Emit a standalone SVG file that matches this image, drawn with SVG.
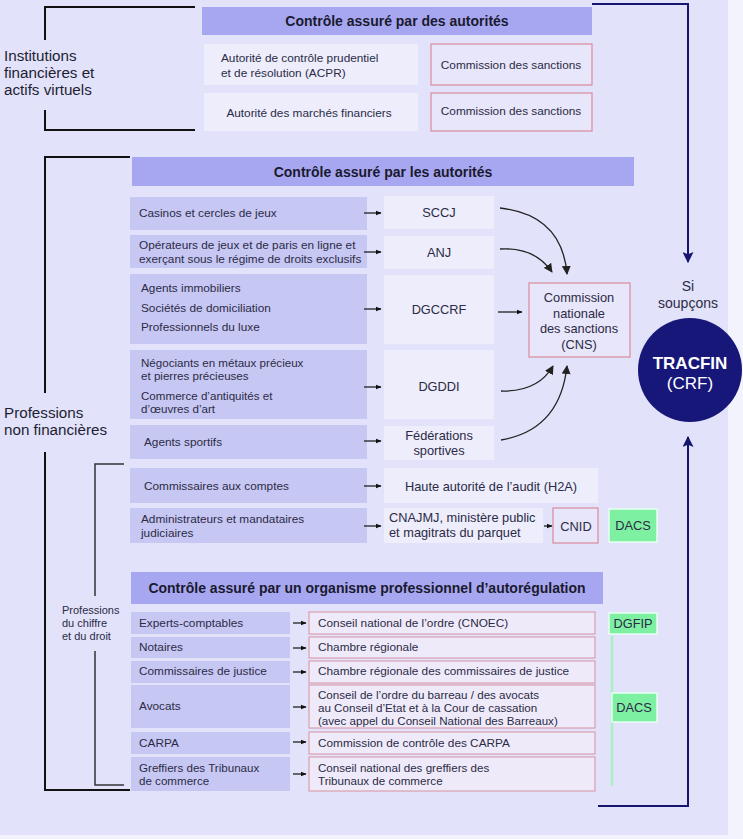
<svg xmlns="http://www.w3.org/2000/svg" width="743" height="839" viewBox="0 0 743 839">
<style>
text{font-family:"Liberation Sans",Arial,sans-serif;fill:#2b2b45;font-size:11.8px}
.t{font-size:11.6px}
.big{font-size:15.2px;fill:#1e1e30}
.hdr{font-weight:bold;font-size:14px;fill:#1a1a2e;text-anchor:middle}
.m{font-size:12.8px}
.h{fill:#a7a7f1}
.row{fill:#c7c7f4}
.lt{fill:#ededfc}
.pk{fill:#e8e6fa;stroke:#d98a9c;stroke-width:1.2}
.pk2{fill:#efeafa;stroke:#d9a0ae;stroke-width:1.2}
.gr{fill:#7ef0a2;stroke:#e8fff0;stroke-width:1.5}
.c{text-anchor:middle}
.br{fill:none;stroke:#111;stroke-width:2}
.br1{fill:none;stroke:#333;stroke-width:1.5}
.nv{fill:none;stroke:#16166e;stroke-width:2}
.ar{fill:none;stroke:#111;stroke-width:1.2}
.cv{fill:none;stroke:#222;stroke-width:1.3}
</style>
<defs>
<marker id="a" viewBox="0 0 10 10" refX="9" refY="5" markerWidth="6" markerHeight="6" orient="auto" markerUnits="userSpaceOnUse"><path d="M0,1 L10,5 L0,9 Z" fill="#111"/></marker>
<marker id="ac" viewBox="0 0 10 10" refX="9" refY="5" markerWidth="9" markerHeight="9" orient="auto" markerUnits="userSpaceOnUse"><path d="M0,0 L10,5 L0,10 Z" fill="#222"/></marker>
<marker id="an" viewBox="0 0 10 10" refX="9" refY="5" markerWidth="11" markerHeight="11" orient="auto" markerUnits="userSpaceOnUse"><path d="M0,0 L10,5 L0,10 L2,5 Z" fill="#16166e"/></marker>
</defs>
<rect x="0" y="0" width="743" height="839" fill="#f3f3fd"/>
<rect x="0" y="0" width="728" height="835" fill="#e2e2fb"/>

<g id="brackets">
<path class="br" d="M195,7 H45 V40 M45,110 V130 H195"/>
<path class="br" d="M130,157 H45 V393 M45,452 V790 H130"/>
<path class="br1" d="M124,464 H95 V596 M95,651 V785 H124"/>
</g>
<g id="lbl-institutions"><text class="big" x="4" y="61">Institutions<tspan x="4" dy="17">financières et</tspan><tspan x="4" dy="17">actifs virtuels</tspan></text></g>
<g id="lbl-nonfin"><text class="big" x="4" y="418">Professions<tspan x="4" dy="17">non financières</tspan></text></g>
<g id="lbl-chiffre"><text x="62" y="614" style="font-size:11px">Professions<tspan x="62" dy="13">du chiffre</tspan><tspan x="62" dy="13">et du droit</tspan></text></g>

<g id="hdr1"><rect class="h" x="202" y="7" width="390" height="28"/><text class="hdr" x="397" y="26">Contrôle assuré par des autorités</text></g>
<g id="acpr"><rect class="lt" x="204" y="44" width="214" height="41"/><text x="221" y="62">Autorité de contrôle prudentiel<tspan x="221" dy="15">et de résolution (ACPR)</tspan></text></g>
<g id="cs1"><rect class="pk" x="431" y="44" width="161" height="41"/><text class="c" x="511" y="69">Commission des sanctions</text></g>
<g id="amf"><rect class="lt" x="204" y="93" width="214" height="38"/><text class="c" x="309" y="117">Autorité des marchés financiers</text></g>
<g id="cs2"><rect class="pk" x="431" y="93" width="161" height="38"/><text class="c" x="511" y="115">Commission des sanctions</text></g>

<g id="hdr2"><rect class="h" x="132" y="157" width="502" height="29"/><text class="hdr" x="383" y="177">Contrôle assuré par les autorités</text></g>
<g id="r-casinos"><rect class="row" x="130" y="197" width="237" height="33"/><text x="139" y="217">Casinos et cercles de jeux</text></g>
<g id="r-operateurs"><rect class="row" x="130" y="235" width="237" height="33"/><text x="139" y="249">Opérateurs de jeux et de paris en ligne et<tspan x="139" dy="14">exerçant sous le régime de droits exclusifs</tspan></text></g>
<g id="r-agents"><rect class="row" x="130" y="274" width="237" height="70"/><text x="141" y="292">Agents immobiliers</text><text x="141" y="312">Sociétés de domiciliation</text><text x="141" y="331">Professionnels du luxe</text></g>
<g id="r-negociants"><rect class="row" x="130" y="350" width="237" height="69"/><text class="t" x="141" y="367">Négociants en métaux précieux<tspan x="141" dy="13">et pierres précieuses</tspan></text><text class="t" x="141" y="400">Commerce d’antiquités et<tspan x="141" dy="13">d’œuvres d’art</tspan></text></g>
<g id="r-sportifs"><rect class="row" x="130" y="425" width="237" height="34"/><text x="144" y="446">Agents sportifs</text></g>
<g id="r-cac"><rect class="row" x="130" y="468" width="237" height="35"/><text x="144" y="490">Commissaires aux comptes</text></g>
<g id="r-admin"><rect class="row" x="130" y="508" width="237" height="35"/><text x="141" y="523">Administrateurs et mandataires<tspan x="141" dy="14">judiciaires</tspan></text></g>

<g id="sccj"><rect class="lt" x="384" y="196" width="110" height="33"/><text class="c m" x="439" y="217">SCCJ</text></g>
<g id="anj"><rect class="lt" x="384" y="236" width="110" height="33"/><text class="c m" x="439" y="257">ANJ</text></g>
<g id="dgccrf"><rect class="lt" x="384" y="275" width="110" height="69"/><text class="c m" x="439" y="314">DGCCRF</text></g>
<g id="dgddi"><rect class="lt" x="384" y="350" width="110" height="69"/><text class="c m" x="439" y="391">DGDDI</text></g>
<g id="federations"><rect class="lt" x="384" y="426" width="110" height="34"/><text class="c m" x="439" y="440">Fédérations<tspan x="439" dy="14.6">sportives</tspan></text></g>
<g id="h2a"><rect class="lt" x="384" y="468" width="214" height="35"/><text class="c m" x="491" y="491">Haute autorité de l’audit (H2A)</text></g>
<g id="cnajmj"><rect class="lt" x="384" y="508" width="159" height="35"/><text class="m" x="389" y="522">CNAJMJ, ministère public<tspan x="389" dy="15">et magitrats du parquet</tspan></text></g>
<g id="cnid"><rect class="pk" x="553" y="508" width="45" height="35"/><text class="c m" x="576" y="531">CNID</text></g>
<g id="dacs1"><rect class="gr" x="609" y="509" width="48" height="33"/><text class="c m" x="633" y="530">DACS</text></g>
<g id="cns"><rect class="pk" x="529" y="283" width="101" height="74"/><text class="c m" x="579" y="302">Commission<tspan x="579" dy="15.5">nationale</tspan><tspan x="579" dy="15.5">des sanctions</tspan><tspan x="579" dy="15.5">(CNS)</tspan></text></g>

<g id="tracfin"><circle cx="690" cy="370" r="52" fill="#17177a"/><text class="c" x="690" y="369" style="font-size:17px;font-weight:bold;fill:#fff">TRACFIN<tspan x="690" dy="20" style="font-weight:normal">(CRF)</tspan></text></g>
<g id="lbl-soupcons"><text class="c" x="688" y="291" style="font-size:14px">Si<tspan x="688" dy="17">soupçons</tspan></text></g>

<g id="hdr3"><rect class="h" x="131" y="572" width="472" height="32"/><text class="hdr" x="367" y="593">Contrôle assuré par un organisme professionnel d’autorégulation</text></g>
<g id="b-experts"><rect class="row" x="131" y="612" width="159" height="22"/><text x="139" y="627">Experts-comptables</text></g>
<g id="b-notaires"><rect class="row" x="131" y="637" width="159" height="21"/><text x="139" y="651">Notaires</text></g>
<g id="b-commissaires"><rect class="row" x="131" y="661" width="159" height="22"/><text x="139" y="675">Commissaires de justice</text></g>
<g id="b-avocats"><rect class="row" x="131" y="685" width="159" height="43"/><text x="139" y="710">Avocats</text></g>
<g id="b-carpa"><rect class="row" x="131" y="732" width="159" height="22"/><text x="139" y="747">CARPA</text></g>
<g id="b-greffiers"><rect class="row" x="131" y="757" width="159" height="34"/><text class="t" x="139" y="772">Greffiers des Tribunaux<tspan x="139" dy="13">de commerce</tspan></text></g>

<g id="o-cnoec"><rect class="pk2" x="309" y="612" width="286" height="22"/><text x="318" y="627">Conseil national de l’ordre (CNOEC)</text></g>
<g id="o-chambre"><rect class="pk2" x="309" y="637" width="286" height="21"/><text x="318" y="651">Chambre régionale</text></g>
<g id="o-chambre-cj"><rect class="pk2" x="309" y="661" width="286" height="22"/><text x="318" y="675">Chambre régionale des commissaires de justice</text></g>
<g id="o-conseil"><rect class="pk2" x="309" y="685" width="286" height="43"/><text class="t" x="318" y="699">Conseil de l’ordre du barreau / des avocats<tspan x="318" dy="13">au Conseil d’Etat et à la Cour de cassation</tspan><tspan x="318" dy="13">(avec appel du Conseil National des Barreaux)</tspan></text></g>
<g id="o-carpa"><rect class="pk2" x="309" y="732" width="286" height="22"/><text x="318" y="747">Commission de contrôle des CARPA</text></g>
<g id="o-greffiers"><rect class="pk2" x="309" y="757" width="286" height="34"/><text class="t" x="318" y="772">Conseil national des greffiers des<tspan x="318" dy="13">Tribunaux de commerce</tspan></text></g>
<g id="dgfip"><rect class="gr" x="609" y="613" width="48" height="21"/><text class="c m" x="633" y="628">DGFIP</text></g>
<g id="dacs2"><line x1="612" y1="636" x2="612" y2="786" stroke="#a6f2c2" stroke-width="2.5"/><rect class="gr" x="612" y="693" width="45" height="29"/><text class="c m" x="634" y="712">DACS</text></g>

<g id="connectors">
<path class="nv" d="M592,4 H688 V262" marker-end="url(#an)"/>
<path class="nv" d="M598,806 H688 V437" marker-end="url(#an)"/>
<path class="ar" d="M364,213 H381" marker-end="url(#a)"/>
<path class="ar" d="M364,252 H381" marker-end="url(#a)"/>
<path class="ar" d="M364,309 H381" marker-end="url(#a)"/>
<path class="ar" d="M364,387 H381" marker-end="url(#a)"/>
<path class="ar" d="M364,441 H381" marker-end="url(#a)"/>
<path class="ar" d="M364,486 H381" marker-end="url(#a)"/>
<path class="ar" d="M364,526 H381" marker-end="url(#a)"/>
<path class="ar" d="M544,526 H552" marker-end="url(#a)"/>
<path class="ar" d="M498,312 H522" marker-end="url(#a)"/>
<path class="cv" d="M500,208 Q562,215 567,274" marker-end="url(#ac)"/>
<path class="cv" d="M500,249 Q535,247 552,272" marker-end="url(#ac)"/>
<path class="cv" d="M501,391 Q538,392 553,366" marker-end="url(#ac)"/>
<path class="cv" d="M501,440 Q560,430 567,366" marker-end="url(#ac)"/>
<path class="ar" d="M293,623 H306" marker-end="url(#a)"/>
<path class="ar" d="M293,648 H306" marker-end="url(#a)"/>
<path class="ar" d="M293,672 H306" marker-end="url(#a)"/>
<path class="ar" d="M293,707 H306" marker-end="url(#a)"/>
<path class="ar" d="M293,742 H306" marker-end="url(#a)"/>
<path class="ar" d="M293,774 H306" marker-end="url(#a)"/>
</g>
</svg>
